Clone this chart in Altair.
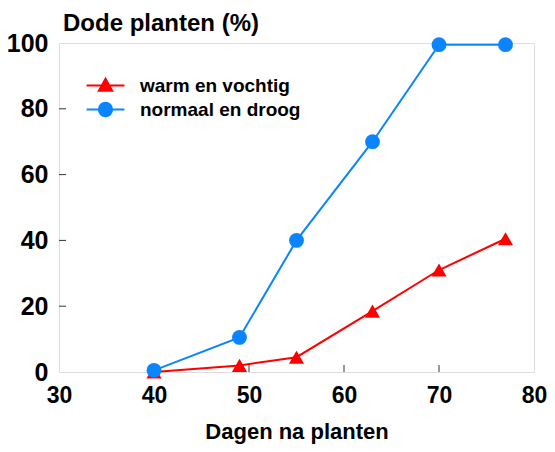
import altair as alt
import pandas as pd

days = [40, 49, 55, 63, 70, 77]
warm = [0, 2, 4.5, 18.5, 31, 40.5]
normaal = [0.5, 10.5, 40, 70, 99.5, 99.5]
series_names = ["warm en vochtig", "normaal en droog"]
colors = ["#ff0000", "#0a84ff"]
x_ticks = [30, 40, 50, 60, 70, 80]
y_ticks = [0, 20, 40, 60, 80, 100]
inner_x_ticks = [40, 50, 60, 70]
inner_y_ticks = [20, 40, 60, 80]

rows = []
for d, w, n in zip(days, warm, normaal):
    rows.append({"dag": d, "pct": w, "reeks": series_names[0]})
    rows.append({"dag": d, "pct": n, "reeks": series_names[1]})
df = pd.DataFrame(rows)

FONT = "Liberation Sans"
W, H = 475, 329

xs = alt.Scale(domain=[30, 80], nice=False)
ys = alt.Scale(domain=[0, 100], nice=False)
cs = alt.Scale(domain=series_names, range=colors)

tri_path = "M-2.7,0H2.7M0,-0.95L0.95,0.75H-0.95Z"
circ_path = "M-2.7,0H2.7M-0.95,0A0.95,0.95 0 1,0 0.95,0A0.95,0.95 0 1,0 -0.95,0Z"

legend = alt.Legend(
    title=None, orient="none", legendX=37, legendY=33,
    labelFont=FONT, labelFontSize=19, labelFontWeight="bold", labelColor="black",
    symbolSize=196, symbolStrokeWidth=2, labelOffset=25, labelLimit=400,
)

base = alt.Chart(df)

lines = base.mark_line(strokeWidth=2).encode(
    x=alt.X("dag:Q", scale=xs, axis=alt.Axis(
        values=x_ticks, title="Dagen na planten", grid=False, ticks=False, domain=False,
        labelFont=FONT, labelFontSize=23, labelFontWeight="bold", labelColor="black",
        labelPadding=12, labelFlush=False, titleFont=FONT, titleFontSize=22, titleFontWeight="bold",
        titleColor="black", titlePadding=14)),
    y=alt.Y("pct:Q", scale=ys, axis=alt.Axis(
        values=y_ticks, title=None, grid=False, ticks=False, domain=False,
        labelFont=FONT, labelFontSize=25, labelFontWeight="bold", labelColor="black",
        labelPadding=11, labelFlush=False)),
    color=alt.Color("reeks:N", scale=cs, legend=legend),
)

tri_points = base.mark_point(filled=True, size=230, opacity=1, shape="triangle-up").encode(
    x=alt.X("dag:Q", scale=xs),
    y=alt.Y("pct:Q", scale=ys),
    color=alt.Color("reeks:N", scale=cs, legend=legend),
).transform_filter(alt.datum.reeks == series_names[0])

circ_points = base.mark_point(filled=True, size=220, opacity=1, shape="circle").encode(
    x=alt.X("dag:Q", scale=xs),
    y=alt.Y("pct:Q", scale=ys),
    color=alt.Color("reeks:N", scale=cs, legend=legend),
).transform_filter(alt.datum.reeks == series_names[1])

legend_layer = base.mark_point(filled=True, opacity=1, strokeWidth=2).encode(
    x=alt.X("dag:Q", scale=xs),
    y=alt.Y("pct:Q", scale=ys),
    color=alt.Color("reeks:N", scale=cs, legend=legend),
    stroke=alt.Stroke("reeks:N", scale=cs, legend=legend),
    shape=alt.Shape("reeks:N", scale=alt.Scale(domain=series_names, range=[tri_path, circ_path]), legend=legend),
).transform_filter("false")

ytick_df = pd.DataFrame({"v": inner_y_ticks})
xtick_df = pd.DataFrame({"v": inner_x_ticks})

yticks = alt.Chart(ytick_df).mark_rule(color="#333", strokeWidth=1).encode(
    y=alt.Y("v:Q", scale=ys), x=alt.value(0), x2=alt.value(7))
xticks = alt.Chart(xtick_df).mark_rule(color="#333", strokeWidth=1).encode(
    x=alt.X("v:Q", scale=xs), y=alt.value(H), y2=alt.value(H - 7))

chart = alt.layer(yticks, xticks, lines, tri_points, circ_points, legend_layer).properties(
    width=W, height=H,
    title=alt.Title("Dode planten (%)", anchor="start", frame="group", font=FONT,
                    fontSize=24, fontWeight="bold", color="black", offset=-5, dx=4),
    autosize=alt.AutoSizeParams(type="none"),
    padding={"left": 51, "top": 35, "right": 13, "bottom": 72},
).configure_view(stroke="#333", strokeWidth=1.5).configure(background="white")

chart.save("out.html", embed_options={"renderer": "svg", "actions": False})
